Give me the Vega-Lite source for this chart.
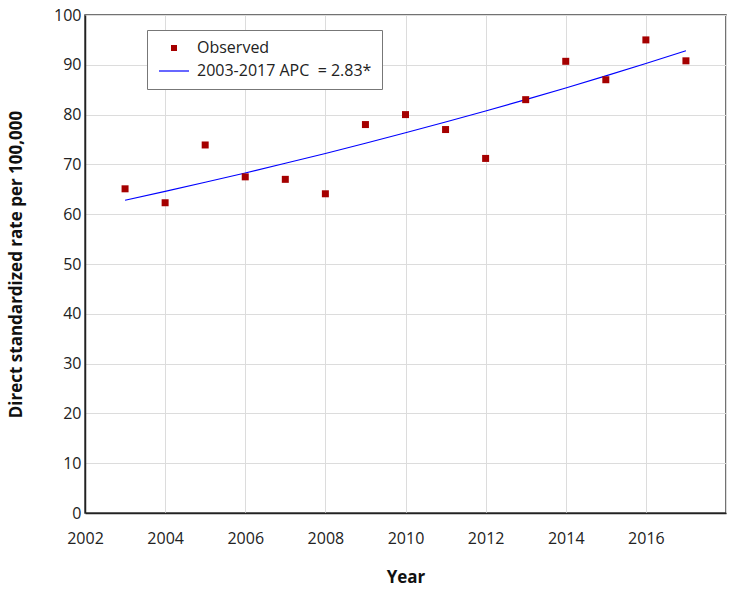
{
  "$schema": "https://vega.github.io/schema/vega-lite/v6.json",
  "width": 641,
  "height": 498,
  "autosize": "none",
  "padding": {"left": 85, "top": 15, "right": 10, "bottom": 80},
  "background": "white",
  "config": {
    "font": "Open Sans",
    "view": {"stroke": "#444444", "strokeWidth": 1.5},
    "axis": {
      "gridColor": "#dcdcdc",
      "gridWidth": 1,
      "ticks": false,
      "labelFontSize": 16,
      "labelColor": "#222222",
      "labelFlush": false,
      "titleFontSize": 17,
      "titleFontWeight": "bold",
      "titleColor": "#111111",
      "domainColor": "#222222",
      "domainWidth": 1.5
    }
  },
  "datasets": {
    "obs": [
      {"year": 2003, "rate": 65.1, "series": "Observed"},
      {"year": 2004, "rate": 62.3, "series": "Observed"},
      {"year": 2005, "rate": 73.9, "series": "Observed"},
      {"year": 2006, "rate": 67.5, "series": "Observed"},
      {"year": 2007, "rate": 67.0, "series": "Observed"},
      {"year": 2008, "rate": 64.1, "series": "Observed"},
      {"year": 2009, "rate": 78.0, "series": "Observed"},
      {"year": 2010, "rate": 80.0, "series": "Observed"},
      {"year": 2011, "rate": 77.0, "series": "Observed"},
      {"year": 2012, "rate": 71.2, "series": "Observed"},
      {"year": 2013, "rate": 83.0, "series": "Observed"},
      {"year": 2014, "rate": 90.7, "series": "Observed"},
      {"year": 2015, "rate": 87.0, "series": "Observed"},
      {"year": 2016, "rate": 95.0, "series": "Observed"},
      {"year": 2017, "rate": 90.8, "series": "Observed"}
    ],
    "fit": [
      {"year": 2003, "rate": 62.80, "series": "2003-2017 APC  = 2.83*"},
      {"year": 2004, "rate": 64.58, "series": "2003-2017 APC  = 2.83*"},
      {"year": 2005, "rate": 66.40, "series": "2003-2017 APC  = 2.83*"},
      {"year": 2006, "rate": 68.28, "series": "2003-2017 APC  = 2.83*"},
      {"year": 2007, "rate": 70.22, "series": "2003-2017 APC  = 2.83*"},
      {"year": 2008, "rate": 72.20, "series": "2003-2017 APC  = 2.83*"},
      {"year": 2009, "rate": 74.25, "series": "2003-2017 APC  = 2.83*"},
      {"year": 2010, "rate": 76.35, "series": "2003-2017 APC  = 2.83*"},
      {"year": 2011, "rate": 78.51, "series": "2003-2017 APC  = 2.83*"},
      {"year": 2012, "rate": 80.73, "series": "2003-2017 APC  = 2.83*"},
      {"year": 2013, "rate": 83.01, "series": "2003-2017 APC  = 2.83*"},
      {"year": 2014, "rate": 85.36, "series": "2003-2017 APC  = 2.83*"},
      {"year": 2015, "rate": 87.78, "series": "2003-2017 APC  = 2.83*"},
      {"year": 2016, "rate": 90.26, "series": "2003-2017 APC  = 2.83*"},
      {"year": 2017, "rate": 92.82, "series": "2003-2017 APC  = 2.83*"}
    ]
  },
  "layer": [
    {
      "data": {"name": "fit"},
      "mark": {"type": "line", "strokeWidth": 1.1},
      "encoding": {
        "x": {
          "field": "year", "type": "quantitative",
          "scale": {"domain": [2002, 2018], "nice": false, "zero": false},
          "axis": {"values": [2002, 2004, 2006, 2008, 2010, 2012, 2014, 2016, 2018], "format": "d", "title": "Year", "titlePadding": 23, "labelPadding": 17, "labelExpr": "datum.value == 2018 ? '' : datum.label"}
        },
        "y": {
          "field": "rate", "type": "quantitative",
          "scale": {"domain": [0, 100], "nice": false},
          "axis": {"values": [0, 10, 20, 30, 40, 50, 60, 70, 80, 90, 100], "title": "Direct standardized rate per 100,000", "titlePadding": 28, "labelPadding": 4}
        },
        "color": {
          "field": "series", "type": "nominal",
          "scale": {"domain": ["Observed", "2003-2017 APC  = 2.83*"], "range": ["#a50000", "#0000ff"]},
          "legend": {
            "title": null,
            "orient": "none",
            "legendX": 62,
            "legendY": 15,
            "padding": 10,
            "strokeColor": "#777777",
            "fillColor": "white",
            "labelFontSize": 16,
            "labelColor": "#222222",
            "labelOffset": 15,
            "symbolOffset": 9,
            "labelLimit": 400,
            "rowPadding": 7,
            "symbolSize": 900,
            "symbolType": "stroke",
            "symbolStrokeColor": "#3a3aff",
            "symbolStrokeWidth": 1.2,
            "labelExpr": "datum.value === 'Observed' ? datum.label : replace(datum.label, '  ', '\u00a0 ') + '\u00a0\u00a0\u00a0\u00a0\u00a0\u00a0\u00a0'",
            "encode": {
              "symbols": {
                "update": {
                  "shape": {"signal": "datum.value === 'Observed' ? 'square' : 'stroke'"},
                  "size": {"signal": "datum.value === 'Observed' ? 36 : 900"},
                  "fill": {"signal": "datum.value === 'Observed' ? '#a50000' : 'transparent'"},
                  "stroke": {"signal": "datum.value === 'Observed' ? '#a50000' : '#3a3aff'"},
                  "strokeWidth": {"signal": "datum.value === 'Observed' ? 0 : 1.2"},
                  "opacity": {"value": 1}
                }
              }
            }
          }
        }
      }
    },
    {
      "data": {"name": "obs"},
      "mark": {"type": "square", "size": 49, "opacity": 1},
      "encoding": {
        "x": {"field": "year", "type": "quantitative"},
        "y": {"field": "rate", "type": "quantitative"},
        "color": {"field": "series", "type": "nominal"}
      }
    }
  ]
}
